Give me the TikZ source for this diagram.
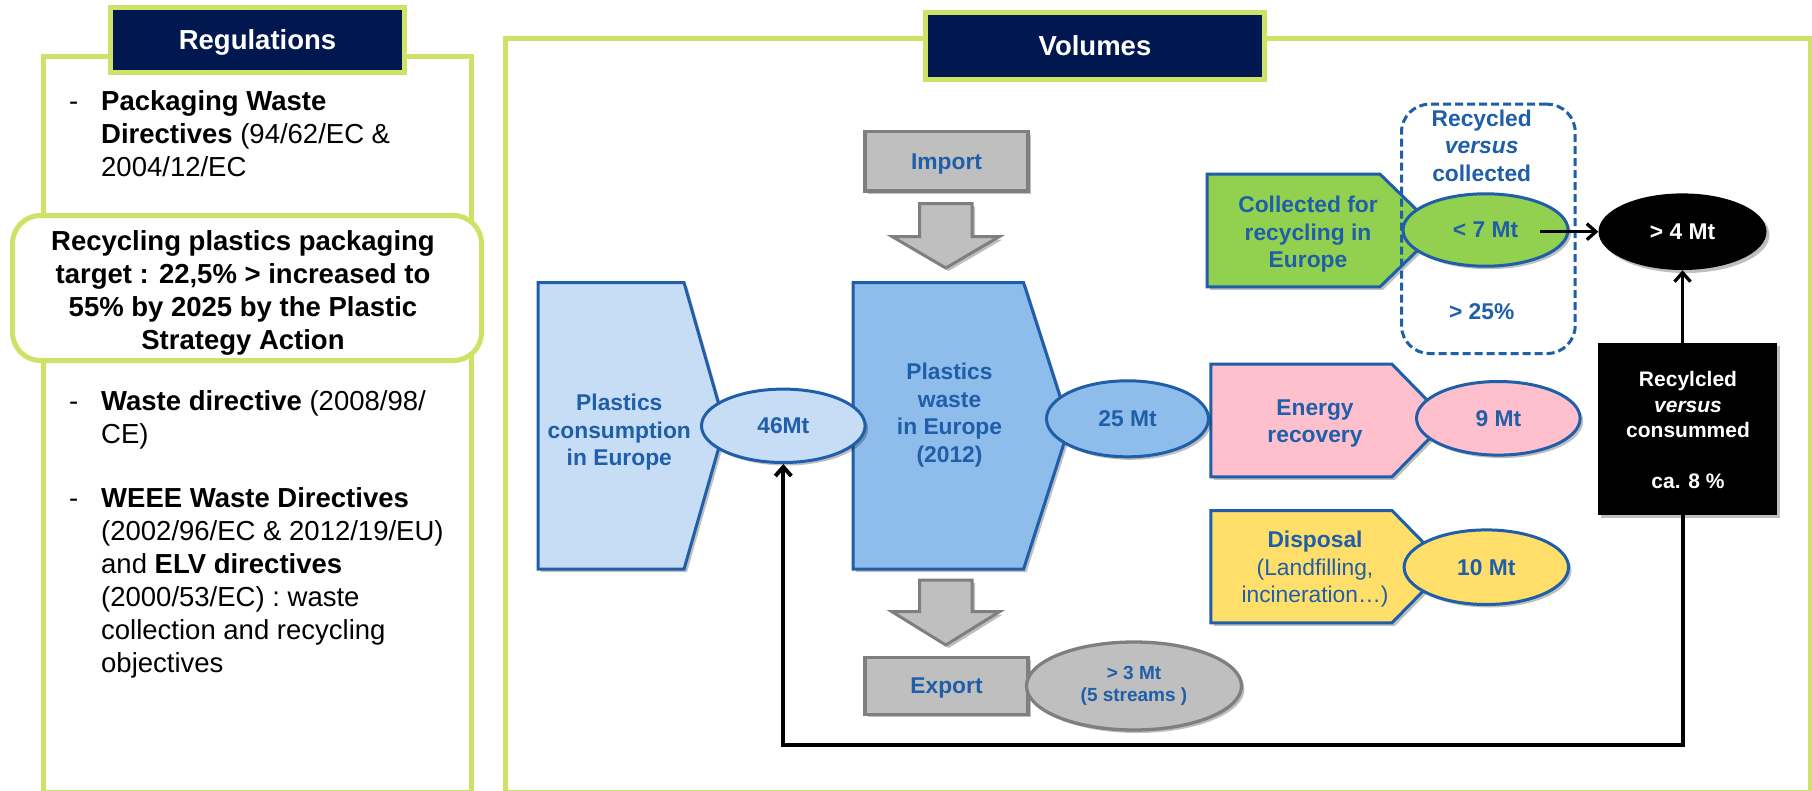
\documentclass[tikz,border=0pt]{standalone}
\usepackage{fontspec}
\setmainfont{Liberation Sans}
\usetikzlibrary{shapes.geometric,arrows.meta,shadows}
\definecolor{navy}{RGB}{0,23,80}
\definecolor{lime}{RGB}{207,226,104}
\definecolor{bl}{RGB}{31,94,168}
\definecolor{lightblue}{RGB}{198,221,245}
\definecolor{midblue}{RGB}{143,189,235}
\definecolor{grn}{RGB}{146,208,80}
\definecolor{pnk}{RGB}{255,192,206}
\definecolor{ylw}{RGB}{255,223,106}
\definecolor{gfill}{RGB}{191,191,191}
\definecolor{gline}{RGB}{127,127,127}
\newcommand{\hs}{\vrule height .76em depth 0pt width 0pt}
\begin{document}
\begin{tikzpicture}[x=1pt,y=-1pt,
  panel/.style={draw=lime,line width=5pt},
  header/.style={draw=lime,fill=navy,line width=5pt,inner sep=0pt,text=white,text depth=0pt,font=\fontsize{27.5}{33}\selectfont\bfseries},
  regtext/.style={font=\fontsize{27.5}{33}\selectfont,align=left,inner sep=0pt,anchor=north west},
  dashmark/.style={font=\fontsize{27.5}{33}\selectfont,inner sep=0pt,anchor=base west},
  shp/.style={draw=bl,line width=3pt},
  sh/.style={drop shadow={shadow xshift=3pt,shadow yshift=-3pt,opacity=.25,fill=black}},
  btext/.style={text=bl,font=\fontsize{22.8}{27.5}\selectfont\bfseries,align=center,inner sep=0pt,anchor=north},
  oval/.style={ellipse,draw=bl,line width=3pt,inner sep=0pt,text=bl,font=\fontsize{22.8}{27.5}\selectfont\bfseries},
  grbox/.style={rectangle,draw=gline,fill=gfill,line width=3.3pt,inner sep=0pt,text=bl,text depth=0pt,font=\fontsize{22.8}{27.5}\selectfont\bfseries},
  blockarrow/.style={draw=gline,fill=gfill,line width=3pt},
  arr/.style={line width=3.3pt,-{Straight Barb[length=9pt,width=16pt]}}
]
\useasboundingbox (0,0) rectangle (1812,790);
\fill[white] (0,0) rectangle (1812,790);

% ---------- Regulations panel ----------
\draw[panel] (43.5,56.5) rectangle (471.5,792);
\node[header,minimum width=294pt,minimum height=65pt] (reghd) at (257.5,40) {Regulations};

\node[dashmark] (d1) at (68.8,110) {-};
\node[regtext] (r1) at (101,89.1) {\hs\textbf{Packaging Waste}\\\textbf{Directives} (94/62/EC \&\\2004/12/EC};

\node[draw=lime,line width=5pt,fill=white,rounded corners=28pt,minimum width=469pt,minimum height=145pt,inner sep=0pt] (target) at (247,288) {};
\node[font=\fontsize{27.5}{33}\selectfont\bfseries,align=center,inner sep=0pt,anchor=north] (targettxt) at (243,229.1)
  {\hs Recycling plastics packaging\\target : 22,5\% > increased to\\55\% by 2025 by the Plastic\\Strategy Action};

\node[dashmark] (d2) at (68.8,410) {-};
\node[regtext] (r2) at (101,389.1) {\hs\textbf{Waste directive} (2008/98/\\CE)};

\node[dashmark] (d3) at (68.8,507) {-};
\node[regtext] (r3) at (101,486.1) {\hs\textbf{WEEE Waste Directives}\\(2002/96/EC \& 2012/19/EU)\\and \textbf{ELV directives}\\(2000/53/EC) : waste\\collection and recycling\\objectives};

% ---------- Volumes panel ----------
\draw[panel] (505.3,38.2) rectangle (1810,792);
\node[header,minimum width=339pt,minimum height=67pt] (volhd) at (1095,46) {Volumes};

% pentagon shapes
\path[shp,fill=lightblue,sh] (538,282.5) -- (684,282.5) -- (725,426) -- (684,569.2) -- (538,569.2) -- cycle;
\path[shp,fill=midblue,sh] (853.2,282.5) -- (1023.5,282.5) -- (1069.5,426) -- (1023.5,569.2) -- (853.2,569.2) -- cycle;
\path[shp,fill=grn,sh] (1207.2,174.2) -- (1380,174.2) -- (1438,230.5) -- (1380,286.8) -- (1207.2,286.8) -- cycle;
\path[shp,fill=pnk,sh] (1210.8,364.2) -- (1392,364.2) -- (1447,420.5) -- (1392,476.8) -- (1210.8,476.8) -- cycle;
\path[shp,fill=ylw,sh] (1210.8,510.5) -- (1392,510.5) -- (1447,566.7) -- (1392,622.8) -- (1210.8,622.8) -- cycle;

\node[btext] (consTxt) at (619.3,393.4) {\hs Plastics\\consumption\\in Europe};
\node[btext] (wasteTxt) at (949.5,362.2) {\hs Plastics\\waste\\in Europe\\(2012)};
\node[btext] (collTxt) at (1308,195) {\hs Collected for\\recycling in\\Europe};
\node[btext] (enTxt) at (1315,397.7) {\hs Energy\\recovery};
\node[btext] (dispTxt) at (1315,530) {\hs Disposal\\{\mdseries (Landfilling,}\\{\mdseries incineration…)}};

% dashed box
\node[draw=bl,line width=3pt,dash pattern=on 8pt off 4pt,rounded corners=28pt,minimum width=173.7pt,minimum height=249.3pt,inner sep=0pt] (dbox) at (1488.35,228.85) {};
\node[btext] (dboxTxt) at (1481.7,108.7) {\hs Recycled\\\textit{versus}\\collected};
\node[text=bl,font=\fontsize{22.8}{27.5}\selectfont\bfseries,inner sep=0pt,anchor=base] (pct25) at (1481.7,319.3) {> 25\%};

% import / export
\node[grbox,minimum width=163pt,minimum height=59.3pt,sh] (imp) at (946.5,161.3) {Import};
\path[blockarrow,sh] (919.5,203.5) -- (972,203.5) -- (972,236.5) -- (999.5,236.5) -- (945.8,268) -- (892,236.5) -- (919.5,236.5) -- cycle;
\path[blockarrow,sh] (919.5,580) -- (972,580) -- (972,611.7) -- (999.5,611.7) -- (945.8,645) -- (892,611.7) -- (919.5,611.7) -- cycle;
\node[grbox,minimum width=163pt,minimum height=57pt,sh] (exp) at (946.5,685.8) {Export};
\node[ellipse,draw=gline,fill=gfill,line width=3.3pt,minimum width=215pt,minimum height=88pt,inner sep=0pt,align=center,text=bl,font=\fontsize{19}{22.3}\selectfont\bfseries,sh] (m3) at (1134,686) {> 3 Mt\\(5 streams )};

% ellipses
\node[oval,fill=lightblue,minimum width=163.6pt,minimum height=73.4pt,sh] (m46) at (783.3,425.8) {46Mt};
\node[oval,fill=midblue,minimum width=162pt,minimum height=76pt,sh] (m25) at (1127.5,418.8) {25 Mt};
\node[oval,fill=grn,minimum width=165pt,minimum height=72.4pt,sh] (lt7) at (1485.5,230) {< 7 Mt};
\node[oval,fill=pnk,minimum width=163.6pt,minimum height=73.6pt,sh] (m9) at (1498.3,418.3) {9 Mt};
\node[oval,fill=ylw,minimum width=164.4pt,minimum height=74.6pt,sh] (m10) at (1486.3,567.2) {10 Mt};
\node[ellipse,fill=black,minimum width=168pt,minimum height=76.6pt,inner sep=0pt,text=white,font=\fontsize{22.8}{27.5}\selectfont\bfseries,sh] (gt4) at (1682.5,231.7) {> 4 Mt};

% black box
\node[fill=black,minimum width=178.4pt,minimum height=171.7pt,inner sep=0pt,sh] (blk) at (1687.5,429.2) {};
\node[font=\fontsize{21}{25.3}\selectfont\bfseries,text=white,align=center,inner sep=0pt,anchor=north] (blkTxt) at (1688,370.7)
  {\hs Recylcled\\\textit{versus}\\consummed\\[25.5pt]ca. 8 \%};

% connectors
\coordinate (a7) at (1540,231.7);
\draw[arr] (a7) -- (gt4.west);
\draw[arr] (gt4.south |- blk.north) -- (gt4.south);
\coordinate (loopy) at (0,745);
\draw[arr,line width=4pt] (gt4.south |- blk.south) -- (gt4.south |- loopy) -- (m46.south |- loopy) -- (m46.south);
\end{tikzpicture}
\end{document}
